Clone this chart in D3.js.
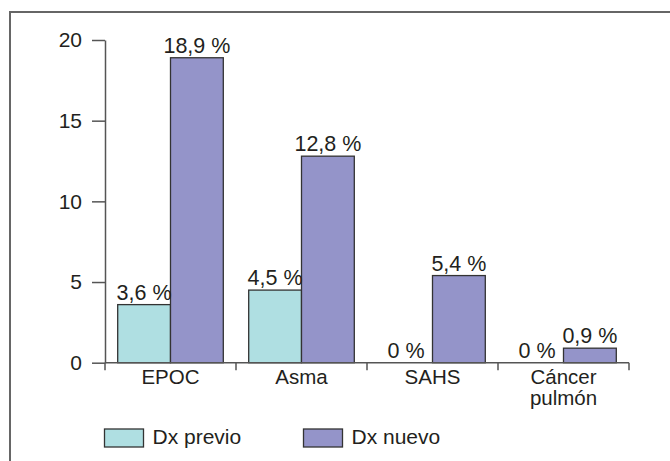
<!DOCTYPE html>
<html>
<head>
<meta charset="utf-8">
<script src="https://cdn.jsdelivr.net/npm/d3@7"></script>
<style>
  body { margin: 0; background: #fff; }
  svg text { font-family: "Liberation Sans", Arial, sans-serif; fill: #231f20; }
</style>
</head>
<body>
<div id="chart"></div>
<script>
// datos de la figura
const categories = [['EPOC'], ['Asma'], ['SAHS'], ['Cáncer', 'pulmón']];
const series = ['Dx previo', 'Dx nuevo'];
const dxPrevio = [3.6, 4.5, 0, 0];
const dxNuevo = [18.9, 12.8, 5.4, 0.9];
const yTicks = [0, 5, 10, 15, 20];
const colors = ['#afdfe2', '#9494c9'];

const W = 670, H = 461;
const svg = d3.select('#chart').append('svg').attr('width', W).attr('height', H);

// marco
svg.append('rect').attr('x', 10).attr('y', 12).attr('width', 700).attr('height', 500)
  .attr('fill', 'none').attr('stroke', '#666').attr('stroke-width', 2);

const x0 = d3.scaleBand().domain(d3.range(categories.length)).range([105, 629]).padding(0);
const x1 = d3.scaleBand().domain(series).range([12.7, x0.bandwidth() - 12.7]).padding(0);
const y = d3.scaleLinear().domain([0, 20]).range([362.7, 40]);

const data = categories.map((c, i) => ({ i: i, values: [dxPrevio[i], dxNuevo[i]] }));

// barras
const groups = svg.selectAll('.grp').data(data).enter().append('g')
  .attr('transform', d => 'translate(' + x0(d.i) + ',0)');

groups.selectAll('rect').data(d => d.values.map((v, k) => ({ k: k, v: v })))
  .enter().append('rect')
  .attr('x', d => x1(series[d.k]))
  .attr('width', x1.bandwidth())
  .attr('y', d => y(d.v))
  .attr('height', d => y(0) - y(d.v))
  .attr('fill', d => colors[d.k])
  .attr('stroke', d => d.v > 0 ? '#333' : 'none')
  .attr('stroke-width', 1.3);

groups.selectAll('.lbl').data(d => d.values.map((v, k) => ({ k: k, v: v })))
  .enter().append('text')
  .attr('x', d => x1(series[d.k]) + x1.bandwidth() / 2)
  .attr('y', d => y(d.v) - 5)
  .attr('text-anchor', 'middle')
  .style('font-size', '21.5px')
  .text(d => String(d.v).replace('.', ',') + ' %');

// eje Y
const yAxis = svg.append('g').attr('transform', 'translate(105,0)')
  .call(d3.axisLeft(y).tickValues(yTicks).tickSize(13).tickSizeOuter(0).tickPadding(10));
yAxis.select('.domain').attr('stroke', '#555').attr('stroke-width', 1.5);
yAxis.selectAll('.tick line').attr('stroke', '#555').attr('stroke-width', 1.5);
yAxis.selectAll('.tick text').style('font-size', '21px').attr('fill', '#231f20')
  .style('font-family', '"Liberation Sans", Arial, sans-serif');

// eje X
const xAxis = svg.append('g');
xAxis.append('line').attr('x1', x0.range()[0]).attr('x2', x0.range()[1])
  .attr('y1', y(0)).attr('y2', y(0)).attr('stroke', '#555').attr('stroke-width', 1.5);
const bounds = d3.range(categories.length + 1).map(i => i < categories.length ? x0(i) : x0.range()[1]);
xAxis.selectAll('.xt').data(bounds).enter().append('line')
  .attr('x1', d => d).attr('x2', d => d)
  .attr('y1', y(0)).attr('y2', y(0) + 7.5)
  .attr('stroke', '#555').attr('stroke-width', 1.5);

// etiquetas de categoría, una línea por texto
categories.forEach(function (lines, i) {
  lines.forEach(function (line, j) {
    xAxis.append('text')
      .attr('text-anchor', 'middle')
      .attr('x', x0(i) + x0.bandwidth() / 2)
      .attr('y', 383.5 + j * 21.5)
      .style('font-size', '20.5px')
      .text(line);
  });
});

// leyenda
const legX = [104.5, 303.5];
const leg = svg.selectAll('.leg').data(series).enter().append('g')
  .attr('transform', (d, i) => 'translate(' + legX[i] + ',429)');
leg.append('rect').attr('width', 39).attr('height', 18)
  .attr('fill', (d, i) => colors[i]).attr('stroke', '#333').attr('stroke-width', 1.3);
leg.append('text').attr('x', 48).attr('y', 15).style('font-size', '21px').text(d => d);
</script>
</body>
</html>
